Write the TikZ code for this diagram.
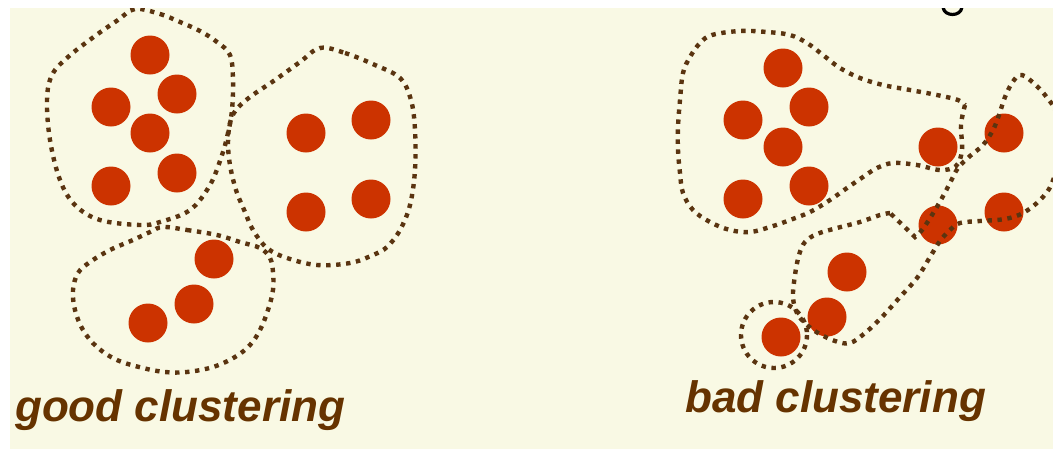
\documentclass[tikz,border=0pt]{standalone}
\usepackage{fontspec}
\setmainfont{Liberation Sans}
\definecolor{bgyellow}{HTML}{F9F9E4}
\definecolor{dotred}{HTML}{CC3300}
\definecolor{outl}{HTML}{5A3410}
\definecolor{txtbrown}{HTML}{663300}
\begin{document}
\begin{tikzpicture}[x=1pt,y=-1pt,
  pt/.style={circle,fill=dotred,minimum size=39pt,inner sep=0pt},
  outline/.style={draw=outl,line width=4.4pt,dash pattern=on 4.4pt off 5.6pt},
  lbl/.style={font=\fontsize{44}{52}\selectfont\bfseries\itshape,text=txtbrown,anchor=base west,inner sep=0pt}]
\useasboundingbox (0,0) rectangle (1053,451);
\fill[white] (0,0) rectangle (1053,451);
\fill[bgyellow] (10,8) rectangle (1053,449);
\begin{scope}
\clip (10,8) rectangle (1053,449);
% good clustering dots
\node[pt] (g1) at (150,55) {};
\node[pt] (g2) at (177,94) {};
\node[pt] (g3) at (111,107) {};
\node[pt] (g4) at (150,133) {};
\node[pt] (g5) at (177,173) {};
\node[pt] (g6) at (111,186) {};
\node[pt] (g7) at (306,133) {};
\node[pt] (g8) at (371,120) {};
\node[pt] (g9) at (306,212) {};
\node[pt] (g10) at (371,199) {};
\node[pt] (g11) at (214,259) {};
\node[pt] (g12) at (194,304) {};
\node[pt] (g13) at (148,323) {};
% bad clustering dots
\node[pt] (b1) at (783,68) {};
\node[pt] (b2) at (809,107) {};
\node[pt] (b3) at (743,120) {};
\node[pt] (b4) at (783,147) {};
\node[pt] (b5) at (809,186) {};
\node[pt] (b6) at (743,199) {};
\node[pt] (b7) at (938,147) {};
\node[pt] (b8) at (1004,133) {};
\node[pt] (b9) at (938,225) {};
\node[pt] (b10) at (1004,212) {};
\node[pt] (b11) at (847,272) {};
\node[pt] (b12) at (827,317) {};
\node[pt] (b13) at (781,337) {};
% good outlines
\draw[outline] plot[smooth cycle,tension=0.6] coordinates {(135,9) (160,14) (180,22) (200,31) (217,42) (230,55) (233,80) (232,110) (228,133) (222,155) (210,185) (190,210) (160,222) (140,225) (100,220) (75,205) (60,180) (50,140) (47,100) (52,75) (68,57) (95,36) (118,20)};
\draw[outline] plot[smooth cycle,tension=0.6] coordinates {(320,48) (345,53) (375,65) (400,78) (411,100) (415,130) (415,170) (410,205) (400,230) (387,247) (373,255) (350,263) (317,265) (287,258) (267,248) (253,230) (245,212) (236,190) (230,165) (228,143) (230,123) (236,110) (250,97) (275,80) (300,62)};
\draw[outline] plot[smooth cycle,tension=0.6] coordinates {(163,227) (187,230) (217,235) (240,242) (260,248) (270,258) (273,272) (273,290) (268,310) (260,330) (250,345) (235,357) (213,367) (187,372) (165,372) (143,368) (117,360) (97,347) (83,330) (75,310) (73,290) (78,273) (90,262) (110,250) (133,240) (150,232)};
% bad outlines
\draw[outline] plot[smooth,tension=0.6] coordinates {(965,105) (961,125) (962,150) (956,166) (940,170) (917,165) (893,163) (877,168) (863,177) (847,188) (830,200) (810,212) (790,220) (770,227) (750,232) (730,230) (710,222) (693,210) (683,193) (680,173) (678,150) (678,127) (680,100) (683,73) (690,57) (700,43) (712,35) (740,31) (767,32) (790,35) (807,43) (823,55) (840,68) (860,78) (883,85) (910,90) (937,95) (958,100) (965,105)};
\draw[outline] plot[smooth,tension=0.6] coordinates {(890,213) (880,215) (860,222) (837,228) (817,234) (805,242) (799,255) (795,275) (793,297) (797,313) (806,324) (818,333) (835,341) (850,343) (865,333) (882,317) (900,297) (917,278) (930,257) (940,241) (950,230) (960,223) (980,221) (1005,219) (1023,213) (1040,200) (1052,183) (1060,150) (1057,115) (1045,95) (1030,80) (1020,75) (1012,83) (1005,97) (999,115) (993,130) (983,145) (970,156) (958,168) (950,183) (942,198) (932,215) (922,230) (915,237)} -- cycle;
\draw[outline] (774,335) circle[radius=33];
% cut-off glyph at the top
\draw[black,line width=3.2pt] (943,7) .. controls (944,17) and (961,17) .. (962,7);
% labels
\node[lbl] (goodlbl) at (15,421) {good clustering};
\node[lbl] (badlbl) at (685,412) {bad clustering};
\end{scope}
\end{tikzpicture}
\end{document}
